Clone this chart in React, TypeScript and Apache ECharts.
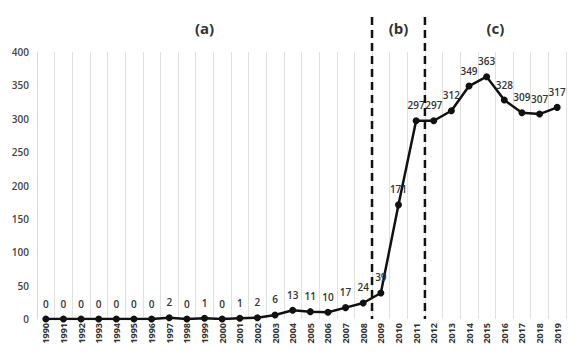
import React, { useEffect, useRef } from "react";
import * as echarts from "echarts";

const years = [
  "1990","1991","1992","1993","1994","1995","1996","1997","1998","1999",
  "2000","2001","2002","2003","2004","2005","2006","2007","2008","2009",
  "2010","2011","2012","2013","2014","2015","2016","2017","2018","2019",
];
const values = [0,0,0,0,0,0,0,2,0,1,0,1,2,6,13,11,10,17,24,39,171,297,297,312,349,363,328,309,307,317];
const yTicks = { min: 0, max: 400, interval: 50 };
// boundaries (as category index after which a divider sits) and period labels
const dividersAfter = [18, 21];
const periods = [
  { label: "(a)", from: 0, to: 18 },
  { label: "(b)", from: 19, to: 21 },
  { label: "(c)", from: 22, to: 29 },
];

const FONT = "'Open Sans', 'Noto Sans', sans-serif";

export default function App() {
  const ref = useRef<HTMLDivElement>(null);
  useEffect(() => {
    if (!ref.current) return;
    const chart = echarts.init(ref.current, undefined, { renderer: "svg" });
    chart.setOption({
      animation: false,
      textStyle: { fontFamily: FONT },
      grid: { left: 37, right: 2, top: 52, bottom: 33, containLabel: false },
      xAxis: {
        type: "category",
        data: years,
        boundaryGap: true,
        axisLine: { show: false },
        axisTick: { show: false },
        splitLine: { show: true, lineStyle: { color: "#e0e0e0", width: 1 } },
        axisLabel: {
          rotate: 90,
          fontSize: 9,
          fontWeight: "bold",
          color: "#333",
          margin: 4,
          interval: 0,
          fontFamily: FONT,
        },
      },
      yAxis: {
        type: "value",
        min: yTicks.min,
        max: yTicks.max,
        interval: yTicks.interval,
        axisLine: { show: true, lineStyle: { color: "#d8d8d8" } },
        axisTick: { show: false },
        splitLine: { show: false },
        axisLabel: { fontSize: 10, fontWeight: 600, color: "#444", margin: 8, fontFamily: FONT },
      },
      series: [
        {
          type: "line",
          data: values,
          symbol: "circle",
          symbolSize: 7,
          itemStyle: { color: "#111" },
          lineStyle: { color: "#111", width: 2.5 },
          label: {
            show: true,
            position: "top",
            distance: 7,
            fontSize: 10,
            fontWeight: 600,
            color: "#333",
            textBorderWidth: 0,
            fontFamily: FONT,
          },
          z: 3,
        },
      ],
    });

    const px = (i: number) => chart.convertToPixel({ xAxisIndex: 0 }, i) as number;
    const step = px(1) - px(0);
    const edge = (i: number) => px(i) + step / 2; // right edge of category i
    const y0 = chart.convertToPixel({ yAxisIndex: 0 }, 0) as number;
    const graphics: any[] = [];
    dividersAfter.forEach((i) => {
      const x = edge(i);
      graphics.push({
        type: "line",
        shape: { x1: x, y1: 17, x2: x, y2: y0 },
        style: { stroke: "#111", lineWidth: 2.5, lineDash: [8, 5] },
        z: 10,
      });
    });
    periods.forEach((p) => {
      const cx = (px(p.from) - step / 2 + edge(p.to)) / 2;
      graphics.push({
        type: "text",
        x: cx,
        y: 28,
        style: {
          text: p.label,
          fontSize: 15,
          fontWeight: "bold",
          fill: "#333",
          fontFamily: FONT,
          textAlign: "center",
          textVerticalAlign: "middle",
        },
        z: 10,
      });
    });
    chart.setOption({ graphic: graphics });

    return () => chart.dispose();
  }, []);
  return <div ref={ref} style={{ width: 568, height: 352, position: "absolute", left: 0, top: 0, background: "#fff" }} />;
}
